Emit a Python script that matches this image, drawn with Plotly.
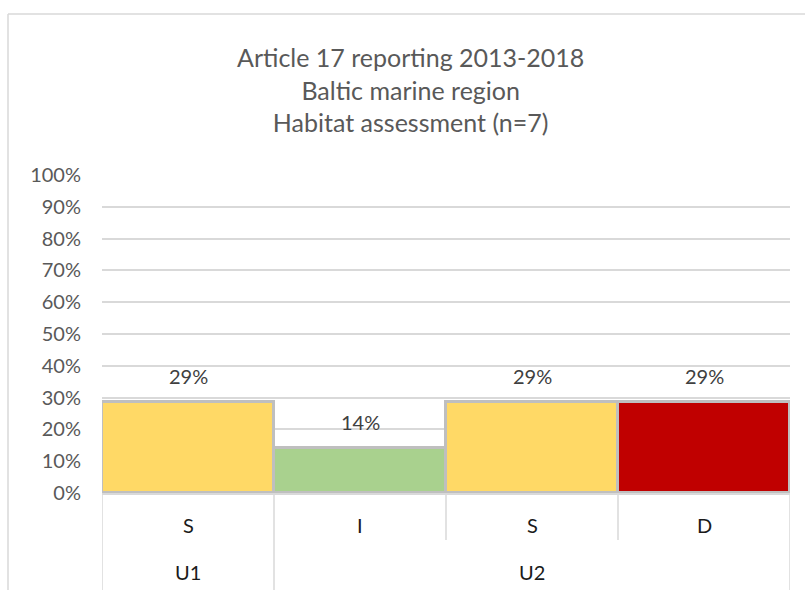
import plotly.graph_objects as go

# Assessment data: habitats per category (n = 7)
groups = ["U1", "U2", "U2", "U2"]
trends = ["S", "I", "S", "D"]
counts = [2, 1, 2, 2]
n_total = 7
bar_colors = ["#FFD966", "#A9D18E", "#FFD966", "#C00000"]
y_ticks = [0, 0.1, 0.2, 0.3, 0.4, 0.5, 0.6, 0.7, 0.8, 0.9, 1.0]

shares = [c / n_total for c in counts]
xs = list(range(len(trends)))

W, H = 805, 590
L, R, T, B = 102, 15, 175, 97
PW, PH = W - L - R, H - T - B

def px_x(px):
    return (px - L) / PW

def px_y(py):
    return (H - B - py) / PH

FONT = "Lato, Calibri, sans-serif"
GRID = "#D9D9D9"

fig = go.Figure(go.Bar(
    x=xs, y=shares,
    marker=dict(color=bar_colors, line=dict(color="#BFBFBF", width=3)),
    hoverinfo="skip",
))

# value labels above each bar
annotations = []
for x, s in zip(xs, shares):
    annotations.append(dict(
        x=x, y=s, xref="x", yref="y", text=f"{round(s * 100):d}%",
        xanchor="center", yanchor="middle",
        showarrow=False, yshift=26, font=dict(size=20, color="#404040", family=FONT),
    ))

# category labels (inner row)
for x, t in zip(xs, trends):
    annotations.append(dict(
        x=x, y=px_y(525), xref="x", yref="paper", text=t, showarrow=False,
        xanchor="center", yanchor="middle",
        font=dict(size=20, color="#1A1A1A", family=FONT),
    ))

# group labels (outer row), centred over each group's span
spans = {}
for x, g in zip(xs, groups):
    spans.setdefault(g, []).append(x)
for g, members in spans.items():
    annotations.append(dict(
        x=(members[0] + members[-1]) / 2, y=px_y(572), xref="x", yref="paper",
        text=g, showarrow=False, xanchor="center", yanchor="middle",
        font=dict(size=20, color="#1A1A1A", family=FONT),
    ))

# chart title, centred on the chart frame
annotations.append(dict(
    x=px_x(410), y=px_y(89), xref="paper", yref="paper",
    xanchor="center", yanchor="middle", showarrow=False,
    text="Article 17 reporting 2013-2018<br>Baltic marine region<br>Habitat assessment (n=7)",
    font=dict(size=25, color="#595959", family=FONT),
))

shapes = []
# inner-row dividers
for b in [i - 0.5 for i in range(len(xs) + 1)]:
    shapes.append(dict(type="line", xref="x", yref="paper", x0=b, x1=b,
                       y0=px_y(493), y1=px_y(540), line=dict(color=GRID, width=1.5)))
# outer-row dividers at group boundaries
bounds = [-0.5]
for g, members in spans.items():
    bounds.append(members[-1] + 0.5)
for b in bounds:
    shapes.append(dict(type="line", xref="x", yref="paper", x0=b, x1=b,
                       y0=px_y(540), y1=px_y(600), line=dict(color=GRID, width=1.5)))
# chart frame (left and top edges)
shapes.append(dict(type="line", xref="paper", yref="paper", x0=px_x(8), x1=px_x(8),
                   y0=px_y(14), y1=px_y(600), line=dict(color=GRID, width=1.5)))
shapes.append(dict(type="line", xref="paper", yref="paper", x0=px_x(8), x1=px_x(810),
                   y0=px_y(14), y1=px_y(14), line=dict(color=GRID, width=1.5)))

fig.update_layout(
    width=W, height=H,
    margin=dict(l=L, r=R, t=T, b=B),
    paper_bgcolor="white", plot_bgcolor="white",
    bargap=0,
    showlegend=False,
    xaxis=dict(range=[-0.5, 3.5], showticklabels=False, showgrid=False,
               zeroline=False, showline=True, linecolor=GRID, linewidth=1.5,
               fixedrange=True),
    yaxis=dict(range=[0, 1], tickvals=y_ticks, tickformat=".0%",
               showgrid=True, gridcolor=GRID, gridwidth=1.5, zeroline=False,
               showline=False, ticklabelstandoff=20,
               tickfont=dict(size=20, color="#595959", family=FONT), fixedrange=True),
    annotations=annotations,
    shapes=shapes,
)

fig.write_html("out.html")
